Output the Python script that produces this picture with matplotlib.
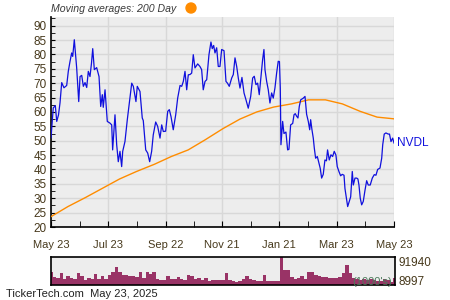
import matplotlib
matplotlib.use("Agg")
import matplotlib.pyplot as plt
from matplotlib.patches import Ellipse
import numpy as np
import pandas as pd

plt.rcParams['font.family'] = ['Liberation Sans', 'DejaVu Sans']

# NVDL close, day offsets from 2024-05-23
days = [0, 2.4, 4.6, 6.1, 8.0, 9.6, 11.4, 13.8, 16.7, 18.4,
        20.2, 22.0, 23.1, 24.8, 27.3, 29.5, 30.9, 32.7, 34.4, 36.2,
        38.0, 39.7, 41.5, 43.1, 44.4, 46.1, 48.6, 51.1, 52.9, 54.6,
        55.6, 57.5, 59.9, 62.8, 64.6, 65.6, 68.1, 69.9, 71.6, 73.4,
        75.2, 76.3, 78.7, 81.2, 83.5, 85.9, 87.6, 90.4, 91.8, 94.7,
        97.1, 98.2, 100.8, 102.9, 105.0, 107.1, 108.8, 111.4, 113.5, 116.0,
        117.8, 119.5, 122.0, 124.2, 125.9, 127.7, 130.1, 132.7, 134.8, 137.3,
        139.1, 140.8, 142.6, 144.4, 146.1, 147.9, 149.7, 151.4, 153.2, 156.1,
        158.5, 160.3, 162.0, 163.9, 165.7, 168.1, 170.2, 171.6, 173.1, 174.5,
        176.3, 178.0, 179.8, 181.6, 184.1, 186.2, 187.8, 189.7, 192.3, 194.0,
        195.8, 197.6, 199.3, 201.1, 203.2, 205.4, 207.5, 209.9, 212.5, 214.6,
        216.3, 218.1, 219.9, 221.6, 223.4, 225.2, 226.6, 227.7, 229.5, 231.2,
        233.0, 234.8, 236.5, 238.3, 240.1, 241.8, 243.1, 244.0, 244.7, 246.5,
        247.9, 250.0, 251.8, 253.2, 255.0, 257.2, 258.6, 259.9, 261.4, 262.8,
        264.2, 265.7, 268.5, 270.3, 272.0, 273.8, 275.3, 276.3, 277.7, 279.1,
        280.2, 281.6, 283.4, 285.2, 286.5, 288.0, 289.7, 291.5, 293.1, 294.3,
        296.1, 297.9, 299.7, 301.4, 303.2, 304.6, 306.4, 308.2, 309.9, 311.8,
        312.8, 314.6, 315.7, 317.1, 318.9, 320.6, 321.7, 323.5, 325.3, 326.6,
        327.7, 329.1, 330.6, 332.3, 334.1, 335.9, 337.6, 339.7, 341.9, 344.0,
        345.8, 347.6, 350.1, 351.9, 353.0, 354.6, 356.4, 358.9, 360.2, 361.8,
        363.6, 365.0]
price = [51.0, 61.4, 62.2, 56.7, 59.0, 63.2, 70.2, 68.4, 69.2, 74.1,
         77.5, 80.5, 79.3, 85.1, 75.4, 63.6, 72.3, 72.7, 68.9, 70.2,
         68.5, 74.1, 72.3, 77.0, 82.0, 74.7, 75.4, 72.3, 61.9, 66.0,
         61.6, 67.7, 56.7, 56.1, 55.5, 46.8, 59.0, 48.6, 42.7, 46.3,
         41.0, 46.3, 49.7, 57.3, 63.5, 70.0, 68.9, 63.6, 68.9, 67.1,
         57.9, 57.0, 46.8, 45.7, 42.7, 46.3, 52.0, 56.5, 55.0, 50.9,
         55.5, 53.2, 53.3, 60.2, 60.8, 58.4, 53.8, 59.0, 64.8, 69.2,
         68.9, 70.6, 74.1, 67.7, 72.9, 73.0, 73.5, 79.9, 75.3, 76.7,
         75.8, 74.7, 67.7, 70.6, 71.2, 79.9, 84.3, 82.0, 83.1, 80.5,
         82.3, 75.8, 75.8, 81.7, 81.3, 70.6, 70.0, 68.9, 71.8, 73.0,
         78.8, 75.8, 71.8, 68.3, 72.0, 66.6, 64.2, 61.3, 65.4, 71.8,
         72.4, 69.5, 70.0, 66.0, 72.3, 78.2, 81.7, 74.7, 70.6, 67.7,
         63.1, 66.6, 64.8, 68.3, 73.5, 77.6, 77.5, 68.3, 48.6, 56.7,
         52.5, 53.0, 46.8, 47.0, 55.5, 56.0, 59.0, 59.4, 58.5, 57.9,
         61.9, 64.2, 64.8, 65.4, 59.2, 56.7, 53.8, 57.3, 53.8, 50.9,
         47.4, 43.9, 44.5, 42.2, 40.4, 37.0, 38.3, 43.3, 43.0, 46.8,
         43.3, 45.1, 44.5, 46.3, 45.0, 41.0, 39.3, 37.8, 38.3, 38.0,
         33.4, 29.4, 27.1, 28.6, 30.5, 39.3, 34.6, 37.0, 37.0, 36.7,
         34.6, 30.0, 27.7, 28.9, 32.7, 36.1, 34.6, 34.6, 37.0, 38.2,
         38.0, 40.0, 40.5, 43.9, 48.6, 52.3, 52.7, 52.3, 52.3, 49.7,
         50.9, 49.2]

# 200 day moving average
ma_days = [0, 18, 37, 55, 73, 91, 110, 128, 146, 164, 183,
           201, 219, 237, 256, 274, 292, 310, 329, 347, 365]
ma200 = [23.6, 27.1, 30.3, 33.5, 36.7, 39.3, 41.8, 44.5, 46.8, 50.3, 54.2,
         57.5, 60.0, 61.7, 62.8, 64.2, 64.2, 62.8, 60.2, 58.2, 57.6]

# volume, in 1000's of shares (x1000 below)
volume = [42, 28, 24, 41, 21, 30, 22, 21, 40, 30, 18, 22, 21, 36, 21, 29, 20,
          33, 42, 58, 44, 33, 34, 30, 30, 28, 43, 24, 42, 36, 42, 21, 17, 15,
          30, 21, 19, 28, 21, 17, 33, 30, 19, 24, 15, 24, 14, 15, 15, 18, 15,
          40, 15, 13, 10, 14, 19, 29, 19, 17, 13, 13, 33, 13, 13, 13, 13,
          91.94, 50, 50, 28, 19, 22, 30, 19, 44, 42, 34, 31, 28, 28, 24, 22,
          22, 28, 38, 66, 38, 22, 19, 17, 20, 17, 19, 15, 13, 14, 19, 17,
          8.997, 24]

tick_dates = ['2024-05-23', '2024-07-23', '2024-09-22', '2024-11-21',
              '2025-01-21', '2025-03-23', '2025-05-23']
tick_labels = ['May 23', 'Jul 23', 'Sep 22', 'Nov 21', 'Jan 21', 'Mar 23', 'May 23']

start = pd.Timestamp('2024-05-23')
end = pd.Timestamp('2025-05-23')
dates = start + pd.to_timedelta(days, unit='D')
ma_dates = start + pd.to_timedelta(ma_days, unit='D')
ticks = pd.to_datetime(tick_dates)
minor = ticks[:-1] + (ticks[1:] - ticks[:-1]) / 2

txt = '#47391c'
bg = '#ededed'
grid = '#d8d8d8'

fig = plt.figure(figsize=(4.5, 3), dpi=100)
ax = fig.add_axes([51 / 450, 1 - 227 / 300, 343 / 450, 210 / 300])
ax.set_facecolor(bg)
ax.plot(ma_dates, ma200, color='#ff8c00', lw=1.0, zorder=3)
ax.plot(dates, price, color='#1010dd', lw=0.9, zorder=4)
ax.set_xlim(start, end)
ax.set_ylim(20, 93)
ax.set_yticks(np.arange(20, 91, 5))
ax.set_yticks(np.arange(20, 93, 2.5), minor=True)
ax.set_xticks(ticks)
ax.set_xticklabels(tick_labels)
ax.set_xticks(minor, minor=True)
ax.grid(True, which='major', color=grid, lw=1.0)
ax.set_axisbelow(True)
for s in ['top', 'right']:
    ax.spines[s].set_visible(False)
for s in ['left', 'bottom']:
    ax.spines[s].set_color('black')
    ax.spines[s].set_linewidth(1.2)
ax.tick_params(axis='y', which='both', direction='in', length=3, labelsize=8.5,
               labelcolor=txt, pad=3)
ax.tick_params(axis='x', which='both', direction='in', length=4, labelsize=8,
               labelcolor=txt, pad=9)
ax.text(1.008, (price[-1] - 20) / 73, 'NVDL', transform=ax.transAxes,
        color='#1010dd', fontsize=8.5, va='center', ha='left')

# title
fig.text(51 / 450, 1 - 9 / 300, 'Moving averages: 200 Day', fontsize=7.6,
         style='italic', color='#3a3a3a', va='center', ha='left')
fig.add_artist(Ellipse((191 / 450, 1 - 8 / 300), 10 / 450, 10 / 300,
                       transform=fig.transFigure, color='#ff8c00'))

# volume panel
vax = fig.add_axes([51 / 450, 1 - 285 / 300, 344 / 450, 28 / 300])
vax.set_facecolor(bg)
vol = np.array(volume) * 1000
vdates = pd.date_range(start, end, periods=len(vol))
vax.bar(vdates, vol, width=365 / len(vol) * 1.02, color='#993366', align='center')
vax.set_xlim(start, end)
vax.set_ylim(0, 92500)
vax.set_xticks([])
vax.set_yticks([])
for s in vax.spines.values():
    s.set_linewidth(1.2)
vax.text(1.01, 0.78, '91940', transform=vax.transAxes, fontsize=8.5,
         color=txt, va='center', ha='left')
vax.text(1.01, 0.12, '8997', transform=vax.transAxes, fontsize=8.5,
         color=txt, va='center', ha='left')
vax.text(0.99, 0.12, "(1000's)", transform=vax.transAxes, fontsize=8,
         color='#4a7a5a', va='center', ha='right')

fig.text(6 / 450, 1 - 294 / 300, 'TickerTech.com  May 23, 2025', fontsize=8,
         color='#222222', va='center', ha='left')

fig.savefig('out.png', dpi=100)
